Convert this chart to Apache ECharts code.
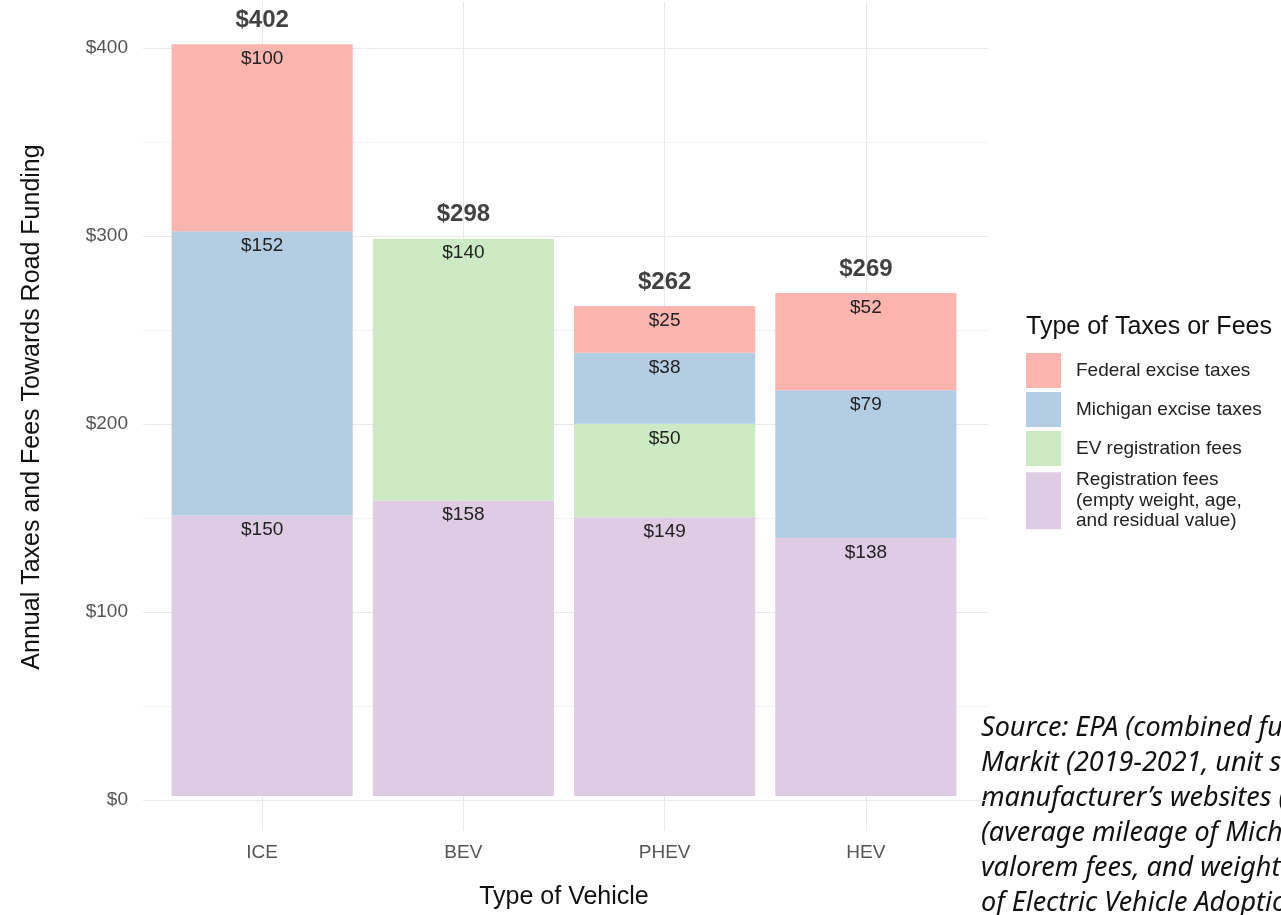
<!DOCTYPE html>
<html>
<head>
<meta charset="utf-8">
<script src="https://cdn.jsdelivr.net/npm/echarts@6/dist/echarts.min.js"></script>
<style>
  html, body { margin: 0; padding: 0; background: #ffffff; }
  #chart { width: 1281px; height: 915px; }
</style>
</head>
<body>
<div id="chart"></div>
<script>
// ---- data ----
const categories = ['ICE', 'BEV', 'PHEV', 'HEV'];
const federalExcise = [100, null, 25, 52];
const michiganExcise = [152, null, 38, 79];
const evRegistration = [null, 140, 50, null];
const registrationFees = [150, 158, 149, 138];
const yTickValues = [0, 100, 200, 300, 400];

const seriesNames = [
  'Federal excise taxes',
  'Michigan excise taxes',
  'EV registration fees',
  'Registration fees (empty weight, age, and residual value)'
];
const colors = ['#FBB4AE', '#B3CDE3', '#CCEBC5', '#DECBE4'];

const totals = categories.map((c, i) =>
  [federalExcise, michiganExcise, evRegistration, registrationFees]
    .reduce((s, arr) => s + (arr[i] || 0), 0));

const FONT = '"Liberation Sans", Arial, sans-serif';
const GRID_COLOR = '#e9e9e9';

const chart = echarts.init(document.getElementById('chart'), null, { renderer: 'canvas' });

function segLabel() {
  return {
    show: true,
    position: 'insideTop',
    distance: 5,
    fontFamily: FONT,
    fontSize: 19,
    color: '#222',
    formatter: p => '$' + p.value
  };
}

function barSeries(name, data, color) {
  return {
    name: name,
    type: 'bar',
    stack: 'total',
    xAxisIndex: 1,
    yAxisIndex: 1,
    barWidth: '90%',
    clip: false,
    data: data,
    itemStyle: { color: color },
    label: segLabel(),
    emphasis: { disabled: true },
    silent: true
  };
}

const option = {
  backgroundColor: '#ffffff',
  animation: false,
  title: {
    text: 'Type of Taxes or Fees',
    left: 1026,
    top: 315,
    padding: 0,
    textStyle: { fontFamily: FONT, fontSize: 25, fontWeight: 'normal', color: '#111' }
  },
  legend: [
    {
      data: seriesNames.slice(0, 3),
      orient: 'vertical',
      left: 1026,
      top: 353,
      padding: 0,
      itemWidth: 35,
      itemHeight: 35,
      itemGap: 4,
      icon: 'rect',
      selectedMode: false,
      textStyle: { fontFamily: FONT, fontSize: 19, color: '#222', padding: [0, 0, 0, 10] }
    },
    {
      data: seriesNames.slice(3),
      orient: 'vertical',
      left: 1026,
      top: 470,
      padding: 0,
      itemWidth: 35,
      itemHeight: 57,
      icon: 'rect',
      selectedMode: false,
      formatter: () => 'Registration fees\n(empty weight, age,\nand residual value)',
      textStyle: { fontFamily: FONT, fontSize: 19, lineHeight: 20.5, color: '#222', padding: [0, 0, 0, 10] }
    }
  ],
  grid: [
    { left: 143, right: 293, top: 48, bottom: 115 },
    { left: 161.5, right: 314.5, top: 48, bottom: 115 }
  ],
  xAxis: [
    { gridIndex: 0, type: 'value', min: 0, max: 1, show: false },
    {
      gridIndex: 1,
      type: 'category',
      data: categories,
      axisLine: { show: false },
      axisTick: { show: true, alignWithLabel: true, inside: true, length: 794,
                  lineStyle: { color: GRID_COLOR, width: 1 } },
      axisLabel: { fontFamily: FONT, fontSize: 19, color: '#555', margin: 47 },
      splitLine: { show: false },
      name: 'Type of Vehicle',
      nameLocation: 'middle',
      nameGap: 89,
      nameTextStyle: { fontFamily: FONT, fontSize: 25, color: '#111' }
    },
    {
      gridIndex: 1,
      type: 'category',
      position: 'bottom',
      data: categories,
      axisLine: { show: false },
      axisTick: { show: true, alignWithLabel: true, length: 35,
                  lineStyle: { color: GRID_COLOR, width: 1 } },
      axisLabel: { show: false },
      splitLine: { show: false }
    }
  ],
  yAxis: [
    {
      gridIndex: 0,
      type: 'value',
      min: yTickValues[0],
      max: yTickValues[yTickValues.length - 1],
      interval: 100,
      axisLine: { show: false },
      axisTick: { show: false },
      axisLabel: { fontFamily: FONT, fontSize: 19, color: '#555', margin: 15,
                   formatter: v => '$' + v },
      splitLine: { show: true, lineStyle: { color: GRID_COLOR, width: 1 } },
      minorTick: { show: false, splitNumber: 2 },
      minorSplitLine: { show: true, lineStyle: { color: '#f3f3f3', width: 1 } },
      name: 'Annual Taxes and Fees Towards Road Funding',
      nameLocation: 'middle',
      nameRotate: 90,
      nameGap: 98,
      nameTextStyle: { fontFamily: FONT, fontSize: 25, color: '#111', padding: [0, 0, 0, 34] }
    },
    {
      gridIndex: 1,
      type: 'value',
      min: yTickValues[0],
      max: yTickValues[yTickValues.length - 1],
      interval: 100,
      show: false
    }
  ],
  series: [
    barSeries(seriesNames[3], registrationFees, colors[3]),
    barSeries(seriesNames[2], evRegistration, colors[2]),
    barSeries(seriesNames[1], michiganExcise, colors[1]),
    barSeries(seriesNames[0], federalExcise, colors[0]),
    {
      name: 'Total',
      type: 'scatter',
      xAxisIndex: 1,
      yAxisIndex: 1,
      data: totals,
      symbolSize: 0,
      clip: false,
      silent: true,
      label: {
        show: true,
        position: 'top',
        distance: 12,
        fontFamily: FONT,
        fontSize: 24,
        fontWeight: 'bold',
        color: '#111',
        formatter: p => '$' + p.value
      }
    }
  ],
  graphic: [
    {
      type: 'text',
      left: 981,
      top: 711,
      silent: true,
      style: {
        text: 'Source: EPA (combined fuel economy), IHS\nMarkit (2019-2021, unit sales), vehicle\nmanufacturer\u2019s websites (vehicle weight), MDOT\n(average mileage of Michigan drivers), ad\nvalorem fees, and weight-based fees\nof Electric Vehicle Adoption',
        font: 'italic 27px "Noto Sans", sans-serif',
        lineHeight: 35,
        fill: '#111'
      }
    }
  ]
};

chart.setOption(option);
</script>
</body>
</html>
